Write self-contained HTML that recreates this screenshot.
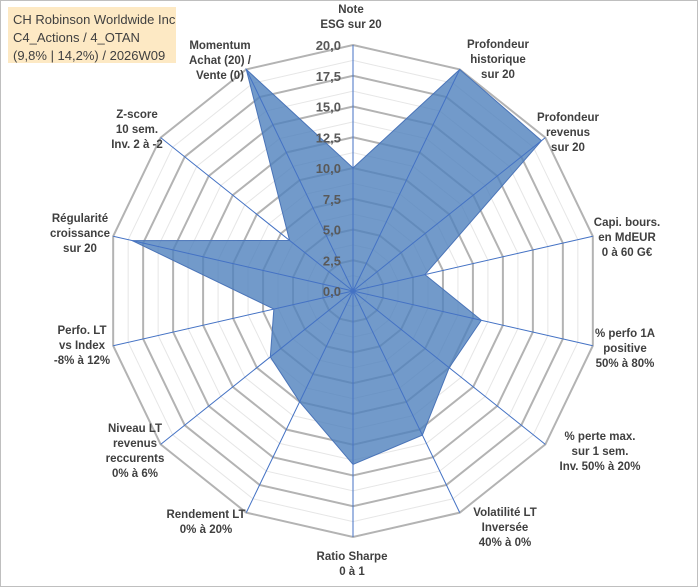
<!DOCTYPE html>
<html><head><meta charset="utf-8"><style>
body{margin:0;background:#fff;}
svg{display:block;font-family:"Liberation Sans",Arial,sans-serif;}
.lbl{font-size:11.5px;font-weight:bold;fill:#404040;}
.tick{font-size:13px;font-weight:bold;fill:#595959;}
</style></head><body>
<svg id="c" width="700" height="587">
<rect x="0.5" y="0.5" width="697" height="586" fill="#fff" stroke="#bfbfbf"/>
<g>
<rect x="8" y="7" width="168" height="56" fill="#fde9c4"/>
<text x="13" y="24" font-size="13" fill="#404040">CH Robinson Worldwide Inc</text>
<text x="13" y="42" font-size="13" fill="#404040">C4_Actions / 4_OTAN</text>
<text x="13" y="60" font-size="13" fill="#404040">(9,8% | 14,2%) / 2026W09</text>
</g>
<g id="grid"></g><g id="series"></g><g id="ticks"></g><g id="labels"></g>
</svg>
<script>
const categories=[["Note","ESG sur 20"],["Profondeur","historique","sur 20"],["Profondeur","revenus","sur 20"],["Capi. bours.","en MdEUR","0 à 60 G€"],["% perfo 1A","positive","50% à 80%"],["% perte max.","sur 1 sem.","Inv. 50% à 20%"],["Volatilité LT","Inversée","40% à 0%"],["Ratio Sharpe","0 à 1"],["Rendement LT","0% à 20%"],["Niveau LT","revenus","reccurents","0% à 6%"],["Perfo. LT","vs Index","-8% à 12%"],["Régularité","croissance","sur 20"],["Z-score","10 sem.","Inv. 2 à -2"],["Momentum","Achat (20) /","Vente (0)"]];
const values=[10,20,19.6,6,10.7,10,13,14.1,10,8.6,6.6,18.4,6.6,20];
const tickLabels=["0,0","2,5","5,0","7,5","10,0","12,5","15,0","17,5","20,0"];
const labelPos=[[351,13],[498,48],[568,121],[627,226],[625,337],[600,440],[505,516],[352,560],[206,518],[135,432],[82,334],[80,222],[137,118],[220,49]];
const cx=353,cy=291,R=246,maxV=20,N=categories.length;
const NS="http://www.w3.org/2000/svg";
function ang(i){return -Math.PI/2+i*2*Math.PI/N;}
function pt(i,v){const r=v/maxV*R;return [cx+r*Math.cos(ang(i)),cy+r*Math.sin(ang(i))];}
function mk(t,a,p){const e=document.createElementNS(NS,t);for(const k in a)e.setAttribute(k,a[k]);p.appendChild(e);return e;}
const grid=document.getElementById('grid');
for(let k=1;k<=16;k++){const v=k*1.25;
 const pts=categories.map((c,i)=>pt(i,v).join(',')).join(' ');
 const e=mk('polygon',{points:pts,fill:'none',stroke:k%2?'#e6e6e6':'#b3b3b3','stroke-width':k%2?1:2},grid);
 
 }
const ser=document.getElementById('series');
const poly=mk('polygon',{points:values.map((v,i)=>pt(i,v).join(',')).join(' '),fill:'#4f81bd','fill-opacity':0.8,stroke:'#4a74b8','stroke-width':1},ser);


for(let i=0;i<N;i++){const p=pt(i,maxV);
 const l=mk('line',{x1:cx,y1:cy,x2:p[0],y2:p[1],stroke:'#4472c4','stroke-width':1},ser);
 
 }
const tk=document.getElementById('ticks');
tickLabels.forEach((t,k)=>{const y=cy-k*2.5/maxV*R;
 const e=mk('text',{x:cx-12,y:y+5,'text-anchor':'end',class:'tick'},tk);e.textContent=t;
 
 });
const lb=document.getElementById('labels');
categories.forEach((lines,i)=>{const [x,y]=labelPos[i];
 const t=mk('text',{x:x,y:y,'text-anchor':'middle',class:'lbl'},lb);
 
 
 lines.forEach((s,j)=>{const ts=mk('tspan',{x:x,dy:j?15:0},t);ts.textContent=s;});});
</script>
</body></html>
